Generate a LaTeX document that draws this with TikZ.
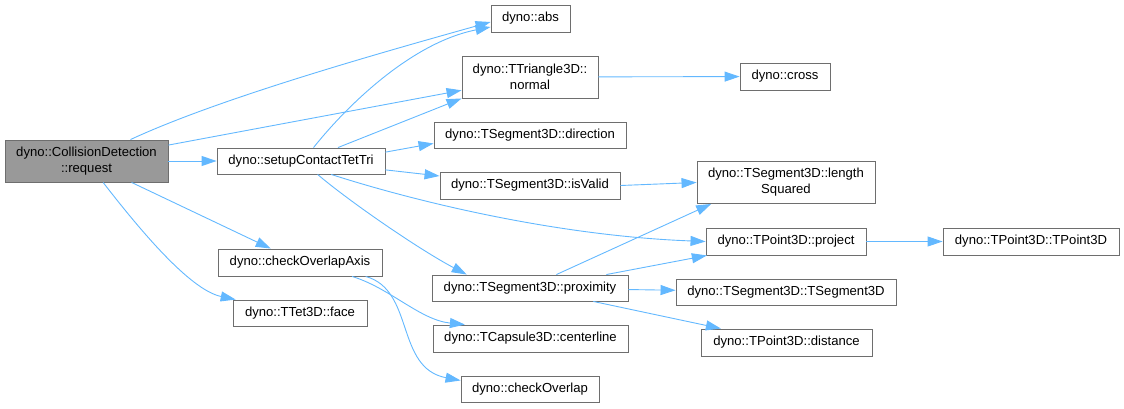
\documentclass[tikz,border=0pt]{standalone}
\usepackage{fontspec}
\setmainfont{Liberation Sans}
\usetikzlibrary{arrows.meta}
\definecolor{dxedge}{RGB}{99,184,255}
\definecolor{dxborder}{RGB}{110,110,110}
\definecolor{dxfocus}{RGB}{153,153,153}

\begin{document}
\begin{tikzpicture}[x=1pt,y=1pt,
  fn/.style={draw=dxborder, line width=0.9pt, fill=white, inner sep=0pt,
    align=center, font=\fontsize{13.1}{16}\selectfont},
  call/.style={draw=dxedge, line width=0.9pt, -{Triangle[length=15pt,width=10pt]}}]
  \useasboundingbox (0,0) rectangle (1124,408);
  % Caller and first level
  \node[fn, fill=dxfocus, minimum width=163pt, minimum height=42pt] (request) at (86.5,247) {dyno::CollisionDetection\\::request};
  \node[fn, minimum width=168pt, minimum height=26pt] (setup) at (301,247) {dyno::setupContactTetTri};
  \node[fn, minimum width=164pt, minimum height=27pt] (axis) at (300,145.5) {dyno::checkOverlapAxis};
  \node[fn, minimum width=134pt, minimum height=26pt] (face) at (300,95) {dyno::TTet3D::face};
  % Second level
  \node[fn, minimum width=79pt, minimum height=27pt] (abs) at (530.5,389.5) {dyno::abs};
  \node[fn, minimum width=136pt, minimum height=42pt] (normal) at (530,331) {dyno::TTriangle3D::\\normal};
  \node[fn, minimum width=192pt, minimum height=26pt] (direction) at (530,273) {dyno::TSegment3D::direction};
  \node[fn, minimum width=180pt, minimum height=27pt] (isvalid) at (530,222.5) {dyno::TSegment3D::isValid};
  \node[fn, minimum width=196pt, minimum height=26pt] (proximity) at (530,120) {dyno::TSegment3D::proximity};
  \node[fn, minimum width=195pt, minimum height=27pt] (centerline) at (530.5,69.5) {dyno::TCapsule3D::centerline};
  \node[fn, minimum width=138pt, minimum height=26pt] (overlap) at (530,19) {dyno::checkOverlap};
  % Third and fourth level
  \node[fn, minimum width=90pt, minimum height=27pt] (cross) at (785,331.5) {dyno::cross};
  \node[fn, minimum width=178pt, minimum height=42pt] (lensq) at (786,225.5) {dyno::TSegment3D::length\\Squared};
  \node[fn, minimum width=160pt, minimum height=27pt] (project) at (786,166.5) {dyno::TPoint3D::project};
  \node[fn, minimum width=176pt, minimum height=27pt] (pointctor) at (1031,166.5) {dyno::TPoint3D::TPoint3D};
  \node[fn, minimum width=220pt, minimum height=26pt] (segctor) at (786,116) {dyno::TSegment3D::TSegment3D};
  \node[fn, minimum width=171pt, minimum height=27pt] (distance) at (786.5,65.5) {dyno::TPoint3D::distance};
  % Calls from request
  \draw[call] (request.26) .. controls (220,310) and (380,355) .. (abs.185);
  \draw[call] (request.11) -- (normal.191);
  \draw[call] (request) -- (setup);
  \draw[call] (request) -- (axis);
  \draw[call] (request) .. controls (140,178) and (190,118) .. (face);
  % Calls from setupContactTetTri
  \draw[call] (setup.47) .. controls (345,300) and (410,365) .. (abs.192);
  \draw[call] (setup.20) -- (normal.south west);
  \draw[call] (setup.6) -- (direction.185);
  \draw[call] (setup.-6) -- (isvalid.174);
  \draw[call] (setup.-24) .. controls (420,205) and (560,172) .. (project.west);
  \draw[call] (setup.-39) .. controls (350,206) and (420,158) .. (proximity.168);
  % Calls from checkOverlapAxis
  \draw[call] (axis.-15) .. controls (390,120) and (420,88) .. (centerline.168);
  \draw[call] (axis.-12) .. controls (415,118) and (395,40) .. (overlap.173);
  % Deeper calls
  \draw[call] (normal) -- (cross);
  \draw[call] (isvalid.east) -- (lensq.west);
  \draw[call] (proximity.27) -- (lensq.196);
  \draw[call] (proximity.10) -- (project.190);
  \draw[call] (proximity) -- (segctor);
  \draw[call] (proximity.-12) -- (distance.168);
  \draw[call] (project) -- (pointctor);
\end{tikzpicture}
\end{document}
